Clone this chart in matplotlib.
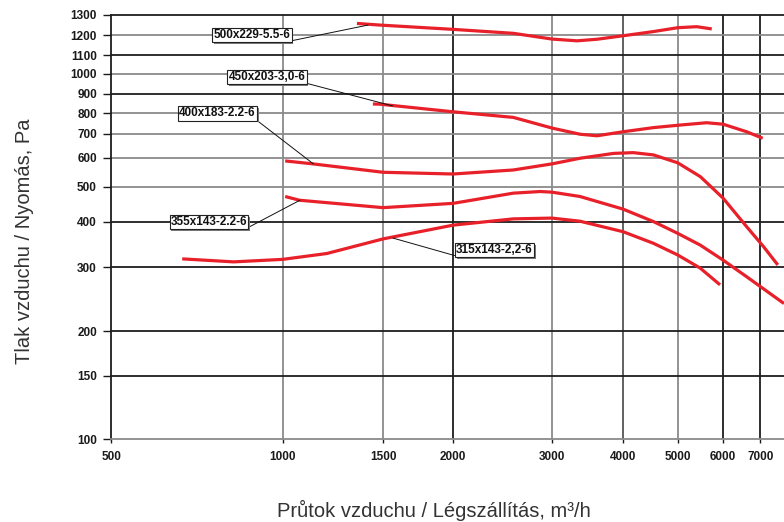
import numpy as np
import matplotlib
matplotlib.use("Agg")
import matplotlib.pyplot as plt
import matplotlib.patheffects as pe

# ---------------- data ----------------
x_500 = [1350, 1480, 2000, 2560, 3000, 3320, 3600, 4000, 4520, 5000, 5400, 5740]
y_500 = [1256, 1248, 1227, 1208, 1179, 1170, 1178, 1196, 1216, 1235, 1240, 1229]

x_450 = [1440, 1480, 2000, 2560, 3010, 3360, 3600, 4000, 4530, 5050, 5620, 6010, 6620, 7070]
y_450 = [846, 845, 806, 778, 726, 699, 692, 710, 729, 741, 752, 745, 710, 681]

x_400 = [1010, 1130, 1500, 2000, 2560, 3000, 3360, 3850, 4170, 4530, 5000, 5480, 6010, 6620, 7090, 7520]
y_400 = [589, 578, 548, 542, 556, 578, 599, 618, 621, 612, 582, 533, 465, 388, 342, 304]

x_355 = [1010, 1070, 1500, 2000, 2560, 2860, 3000, 3360, 4000, 4530, 5000, 5480, 6000, 6620, 7714]
y_355 = [470, 459, 438, 450, 480, 485, 483, 470, 434, 401, 372, 345, 314, 282, 238]

x_315 = [666, 820, 1000, 1195, 1500, 2000, 2560, 3000, 3360, 4000, 4530, 5000, 5475, 5935]
y_315 = [316, 310, 315, 327, 359, 392, 408, 410, 402, 376, 349, 324, 298, 268]

labels = ["500x229-5.5-6", "450x203-3,0-6", "400x183-2.2-6", "355x143-2.2-6", "315x143-2,2-6"]
label_targets_x = [1412, 1560, 1132, 1072, 1562]
label_targets_y = [1248, 836, 578, 459, 361]

x_ticks = [500, 1000, 1500, 2000, 3000, 4000, 5000, 6000, 7000]
y_ticks = [100, 150, 200, 300, 400, 500, 600, 700, 800, 900, 1000, 1100, 1200, 1300]

# ---------------- scales (nomogram grid spacing) ----------------
xs_vals = np.log10([400, 500, 1000, 1500, 2000, 3000, 4000, 5000, 6000, 7000, 9000])
xs_pos = np.array([-55.2, 0, 171.4, 271.7, 341.7, 440.7, 511.7, 566.4, 611.4, 649.0, 710.3])
ys_vals = np.log10([90, 100, 150, 200, 300, 400, 500, 600, 700, 800, 900, 1000, 1100, 1200, 1300, 1400])
ys_pos = np.array([-16.4, 0, 63, 108, 172, 217, 252.3, 281, 305, 326, 345, 365, 384, 404, 424.3, 443.1])


def _lg(v):
    return np.log10(np.maximum(np.asarray(v, dtype=float), 1e-300))


def xf(v):
    return np.interp(_lg(v), xs_vals, xs_pos)


def xi(p):
    return 10 ** np.interp(np.asarray(p, dtype=float), xs_pos, xs_vals)


def yf(v):
    return np.interp(_lg(v), ys_vals, ys_pos)


def yi(p):
    return 10 ** np.interp(np.asarray(p, dtype=float), ys_pos, ys_vals)


W, H = 784, 522
fig = plt.figure(figsize=(W / 100, H / 100), dpi=100)
ax = fig.add_axes([111.3 / W, (H - 439) / H, (W - 111.3) / W, (439 - 14.7) / H])
ax.set_xscale('function', functions=(xf, xi))
ax.set_yscale('function', functions=(yf, yi))
ax.set_xlim(500, 7714)
ax.set_ylim(100, 1300)

# grid
dark, gray = '#1e1e1e', '#8a8a8a'
vcols = {1000: gray, 1500: gray, 2000: dark, 3000: gray, 4000: '#555555', 5000: gray, 6000: dark, 7000: dark}
hcols = {150: dark, 200: dark, 300: dark, 400: dark, 500: gray, 600: gray, 700: gray, 800: gray,
         900: dark, 1000: gray, 1100: dark, 1200: gray, 1300: dark}
for v in x_ticks[1:]:
    ax.axvline(v, color=vcols[v], lw=1.3, zorder=1)
for v in y_ticks[1:]:
    ax.axhline(v, color=hcols[v], lw=1.3, zorder=1, clip_on=False)

for s in ['top', 'right']:
    ax.spines[s].set_visible(False)
ax.spines['left'].set_color(dark)
ax.spines['left'].set_linewidth(1.3)
ax.spines['bottom'].set_color(gray)
ax.spines['bottom'].set_linewidth(1.3)

ax.set_xticks(x_ticks)
ax.set_xticklabels([str(t) for t in x_ticks])
ax.set_yticks(y_ticks)
ax.set_yticklabels([str(t) for t in y_ticks])
ax.minorticks_off()
for lab in ax.get_xticklabels() + ax.get_yticklabels():
    lab.set_fontfamily(['Liberation Sans', 'DejaVu Sans'])
    lab.set_fontweight('bold')
    lab.set_fontsize(8.5)
    lab.set_color('#1a1a1a')
ax.tick_params(axis='y', direction='out', length=5.8, width=1.0, pad=4.5, colors='#1a1a1a')
ax.tick_params(axis='x', direction='out', length=3, width=1.0, pad=6, colors='#1a1a1a')

# curves
red = '#e8202a'
for xs, ys in [(x_500, y_500), (x_450, y_450), (x_400, y_400), (x_355, y_355), (x_315, y_315)]:
    ax.plot(xs, ys, color=red, lw=2.3, solid_joinstyle='round', solid_capstyle='butt', zorder=3)

# labels with leader lines
box_centres = [(252, H - 35), (267, H - 77), (217.5, H - 113.5), (209, H - 222), (494.5, H - 250)]
relposes = [(1, 0), (1, 0), (1, 0), (1, 0), (0, 0)]
for lab, tx, ty, (cx, cy), rp in zip(labels, label_targets_x, label_targets_y, box_centres, relposes):
    ann = ax.annotate(lab, xy=(tx, ty), xycoords='data', xytext=(cx, cy), textcoords='figure pixels',
                      ha='center', va='center', fontsize=8.5, fontweight='bold',
                      family=['Liberation Sans', 'DejaVu Sans'], color='#111111',
                      bbox=dict(boxstyle='square,pad=0.1', fc='white', ec='#222222', lw=0.8),
                      arrowprops=dict(arrowstyle='-', color='#111111', lw=0.7, shrinkA=0, shrinkB=0,
                                      relpos=rp),
                      zorder=5)
    ann.get_bbox_patch().set_path_effects([
        pe.SimplePatchShadow(offset=(1.3, -1.3), shadow_rgbFace='#7a7a7a', alpha=1.0), pe.Normal()])

# axis titles
fig.text(25 / W, 1 - 241 / H, 'Tlak vzduchu / Nyomás, Pa', rotation=90, ha='center', va='center',
         fontsize=14.5, family=['Liberation Sans', 'DejaVu Sans'], color='#333333')
fig.text(434 / W, 1 - 510 / H, 'Průtok vzduchu / Légszállítás, m³/h', ha='center', va='center',
         fontsize=14.5, family=['Liberation Sans', 'DejaVu Sans'], color='#333333')

fig.savefig('out.png', dpi=100)
